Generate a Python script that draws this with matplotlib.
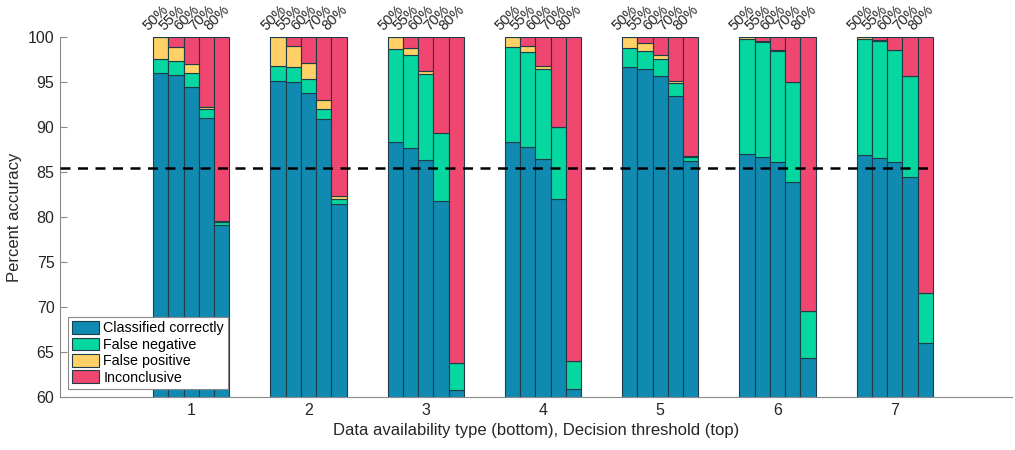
import numpy as np
import matplotlib
matplotlib.use("Agg")
import matplotlib.pyplot as plt

plt.rcParams['font.family'] = ['Liberation Sans', 'DejaVu Sans']

# Data availability types (x groups) and decision thresholds (bars per group)
groups = [1, 2, 3, 4, 5, 6, 7]
thresholds = ["50%", "55%", "60%", "70%", "80%"]

# Percentages per group (rows) and threshold (columns)
correct = [
    [96.0, 95.75, 94.5, 91.0, 79.1],
    [95.1, 95.0, 93.8, 90.9, 81.5],
    [88.3, 87.65, 86.3, 81.8, 60.8],
    [88.3, 87.8, 86.4, 82.05, 60.85],
    [96.65, 96.4, 95.7, 93.5, 86.2],
    [87.0, 86.7, 86.1, 83.9, 64.3],
    [86.9, 86.6, 86.15, 84.4, 66.0],
]
false_neg = [
    [1.6, 1.6, 1.45, 1.0, 0.3],
    [1.7, 1.7, 1.55, 1.15, 0.5],
    [10.35, 10.3, 9.55, 7.5, 3.0],
    [10.6, 10.5, 10.05, 7.9, 3.2],
    [2.1, 2.1, 1.85, 1.4, 0.5],
    [12.8, 12.8, 12.4, 11.1, 5.3],
    [12.9, 13.0, 12.45, 11.3, 5.6],
]
false_pos = [
    [2.4, 1.55, 1.0, 0.25, 0.2],
    [3.2, 2.35, 1.8, 0.9, 0.3],
    [1.35, 0.8, 0.4, 0.05, 0.0],
    [1.1, 0.7, 0.35, 0.05, 0.0],
    [1.25, 0.8, 0.5, 0.2, 0.05],
    [0.2, 0.1, 0.05, 0.0, 0.0],
    [0.2, 0.05, 0.0, 0.0, 0.0],
]
inconclusive = [
    [0.0, 1.1, 3.05, 7.75, 20.4],
    [0.0, 0.95, 2.85, 7.05, 17.7],
    [0.0, 1.25, 3.75, 10.65, 36.2],
    [0.0, 1.0, 3.2, 10.0, 35.95],
    [0.0, 0.7, 1.95, 4.9, 13.25],
    [0.0, 0.4, 1.45, 5.0, 30.4],
    [0.0, 0.35, 1.4, 4.3, 28.4],
]
reference_level = 85.5

categories = ["Classified correctly", "False negative", "False positive", "Inconclusive"]
colors = ["#118AB2", "#06D6A0", "#FFD166", "#EF476F"]
edge = "#1d3d48"

fig = plt.figure(figsize=(10.15, 4.5), dpi=100)
ax = fig.add_axes([60 / 1015, 53 / 450, 952 / 1015, 360 / 450])

bar_w = 0.13
offsets = (np.arange(len(thresholds)) - 2) * bar_w
stack = [np.array(correct), np.array(false_neg), np.array(false_pos), np.array(inconclusive)]

handles = []
for gi, g in enumerate(groups):
    xs = g + offsets
    bottom = np.zeros(len(thresholds))
    for ci, data in enumerate(stack):
        h = ax.bar(xs, data[gi], width=bar_w, bottom=bottom, color=colors[ci],
                   edgecolor=edge, linewidth=0.8, zorder=2)
        if gi == 0:
            handles.append(h)
        bottom = bottom + data[gi]
    for xi, lab in zip(xs, thresholds):
        ax.text(xi - 0.085, 100.45, lab, rotation=45, rotation_mode='anchor',
                ha='left', va='bottom', fontsize=10.5, color='#262626',
                clip_on=False)

xmin, xmax = -0.12, 8.0
ax.hlines(reference_level, xmin, groups[-1] + offsets[-1] + bar_w / 2 + 0.01,
          color='black', linestyles=(0, (4, 3)), linewidth=1.8, zorder=3)

ax.set_xlim(xmin, xmax)
ax.set_ylim(60, 100)
ax.set_xticks(groups)
ax.set_yticks(np.arange(60, 101, 5))
ax.tick_params(direction='in', length=5, color='#8a8a8a', labelsize=11.5,
               labelcolor='#262626', pad=4)
for side in ['top', 'right']:
    ax.spines[side].set_visible(False)
for side in ['left', 'bottom']:
    ax.spines[side].set_color('#8a8a8a')
    ax.spines[side].set_linewidth(0.8)

ax.set_ylabel("Percent accuracy", fontsize=12, color='#262626')
ax.set_xlabel("Data availability type (bottom), Decision threshold (top)", fontsize=12,
              color='#262626')

leg = ax.legend(handles=handles, labels=categories, loc='lower left',
                bbox_to_anchor=(0.008, 0.022), fontsize=10.3, frameon=True, fancybox=False,
                framealpha=1.0, edgecolor='#8a8a8a', handlelength=1.9, handleheight=1.0,
                handletextpad=0.3, borderpad=0.3, labelspacing=0.15, borderaxespad=0.0)
leg.get_frame().set_linewidth(0.8)
leg.set_zorder(5)

fig.savefig("out.png", dpi=100)
